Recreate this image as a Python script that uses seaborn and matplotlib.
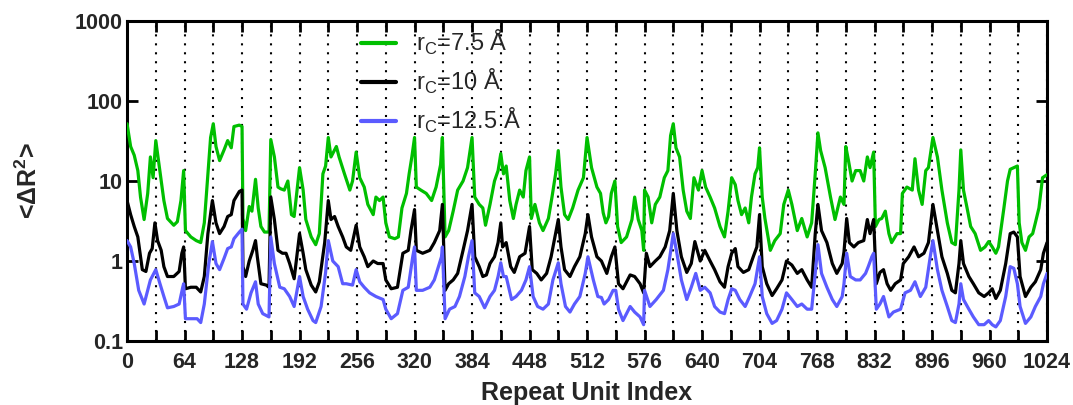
import matplotlib
matplotlib.use("Agg")
import matplotlib.pyplot as plt
from matplotlib.ticker import NullLocator
import pandas as pd
import seaborn as sns

# <ΔR²> per repeat unit for three cutoff radii, as (repeat unit index, value)
rc75_points = [
    (0, 52), (4, 27), (8, 21), (12, 13.5), (15, 6.3), (19, 3.3), (23, 7), (26, 20), (29, 11), (32, 32),
    (35, 18), (38, 10), (41, 5.7), (45, 3.4), (52, 2.8), (56, 3.1), (60, 5.7), (63, 13.5), (65, 2.4), (71, 2.0),
    (77, 1.8), (82, 1.7), (86, 3), (90, 12), (93, 35), (96, 52), (99, 27), (103, 18), (108, 24.5), (112, 32),
    (116, 26), (119, 48), (125, 50), (128, 48), (129, 3.4), (132, 2.4), (136, 4.8), (139, 4.2), (143, 10.5), (146, 4.6),
    (149, 2.7), (153, 2.3), (158, 2.3), (160, 33), (164, 20), (168, 8.4), (171, 8.0), (175, 7.7), (179, 10), (183, 3.8),
    (186, 3.6), (192, 14.7), (196, 7.7), (199, 3.3), (205, 2.0), (210, 1.6), (214, 2.2), (218, 12.3), (221, 15.4), (224, 35),
    (227, 20), (233, 27), (236, 20), (242, 12.3), (248, 7.7), (251, 10), (255, 23), (259, 11), (264, 8.4), (268, 5.1),
    (274, 3.8), (277, 6.3), (281, 5.7), (285, 6.3), (288, 3.0), (292, 2.0), (298, 1.9), (302, 2.0), (306, 4.6), (311, 7),
    (314, 12.3), (317, 20), (320, 35), (322, 8.4), (327, 7.7), (333, 7), (339, 5.7), (344, 8.4), (349, 16), (351, 35),
    (354, 2.0), (358, 2.4), (363, 4.2), (368, 7.7), (374, 10), (379, 14.7), (384, 35), (387, 6.3), (392, 5.1), (396, 4.6),
    (399, 2.8), (404, 5.1), (409, 10), (413, 13.5), (416, 22), (419, 12.3), (422, 15.4), (426, 5.7), (430, 3.4), (433, 5.1),
    (437, 7.7), (441, 6.3), (444, 13.5), (448, 20), (450, 3.4), (454, 5.1), (459, 3.0), (463, 2.4), (469, 3.4), (473, 6.3),
    (477, 12.3), (480, 24), (483, 8.4), (487, 3.8), (491, 3.3), (496, 4.6), (502, 7.7), (508, 11), (512, 35), (517, 14.7),
    (523, 8.4), (527, 7), (530, 4), (533, 3.0), (536, 3.6), (539, 7), (543, 10), (546, 2.7), (550, 1.7), (556, 2.0),
    (562, 3.3), (565, 6.3), (569, 3.3), (573, 2.4), (575, 1.36), (576, 7.7), (580, 6.3), (584, 3.0), (588, 5.1), (593, 6.3),
    (598, 11), (602, 13.5), (605, 37), (608, 52), (611, 26), (615, 20), (619, 7.7), (623, 4.2), (627, 3.4), (631, 11),
    (636, 7.7), (640, 13.5), (644, 8.4), (649, 6.3), (654, 4.6), (660, 2.7), (665, 2.0), (669, 4.2), (673, 11), (677, 9.0),
    (680, 5.7), (684, 3.8), (688, 4.6), (692, 3.0), (695, 6.3), (699, 12.3), (702, 14.7), (704, 26), (707, 6.3), (710, 3.4),
    (716, 1.36), (721, 1.8), (727, 2.2), (731, 5.1), (736, 7.7), (740, 5.1), (746, 2.4), (751, 3.4), (757, 2.0), (762, 3.0),
    (766, 12.3), (769, 40), (772, 24), (777, 14.7), (783, 6.3), (788, 3.3), (794, 6.3), (798, 5.1), (800, 27), (803, 18),
    (807, 10), (811, 13.5), (816, 13.5), (820, 10), (824, 20), (827, 14.7), (831, 23), (833, 2.7), (837, 3.3), (840, 3.4),
    (844, 4.2), (848, 2.2), (851, 1.7), (857, 2.2), (861, 2.2), (863, 7), (868, 8.4), (874, 7.7), (877, 19), (881, 7.7),
    (885, 5.1), (889, 13.5), (892, 14.7), (897, 35), (902, 20), (907, 7.7), (913, 3.0), (918, 1.7), (922, 1.6), (926, 7.7),
    (928, 24.5), (931, 7.7), (935, 4.6), (939, 2.7), (944, 2.2), (950, 1.36), (955, 1.5), (959, 1.75), (963, 1.5), (967, 1.25),
    (970, 1.5), (976, 4.6), (980, 10), (983, 14), (987, 14.7), (991, 15.4), (993, 3.0), (996, 1.7), (1000, 1.36), (1004, 2.0),
    (1008, 2.2), (1011, 3.0), (1015, 4.6), (1019, 11), (1024, 12),
]

rc10_points = [
    (0, 5.7), (4, 3.8), (8, 2.7), (12, 2.0), (17, 0.78), (21, 0.74), (25, 1.25), (28, 1.43), (31, 3), (34, 1.8),
    (38, 1.36), (41, 0.85), (45, 0.64), (52, 0.64), (58, 0.74), (61, 1.25), (63, 1.5), (65, 0.45), (71, 0.47), (77, 0.47),
    (82, 0.41), (86, 0.64), (90, 2.2), (95, 5.7), (99, 3), (103, 2.2), (108, 2.7), (112, 3.6), (116, 3.8), (119, 5.7),
    (125, 7.4), (128, 7.7), (129, 0.85), (132, 0.64), (136, 1.0), (140, 1.36), (143, 1.8), (145, 1.13), (149, 0.52), (155, 0.5),
    (158, 0.47), (160, 6.3), (164, 3.3), (168, 1.36), (173, 1.25), (177, 1.25), (181, 0.93), (186, 0.6), (192, 2.2), (196, 1.25),
    (199, 0.78), (205, 0.5), (210, 0.41), (214, 0.55), (220, 1.7), (224, 5.7), (227, 3.3), (231, 3.6), (235, 2.7), (240, 2.0),
    (244, 1.5), (249, 1.36), (255, 2.8), (259, 1.5), (264, 1.13), (268, 0.85), (274, 1.0), (279, 0.93), (285, 0.93), (288, 0.58),
    (294, 0.45), (301, 0.47), (307, 1.25), (313, 1.36), (316, 2.4), (320, 4.4), (322, 1.36), (329, 1.25), (337, 1.36), (342, 1.7),
    (348, 2.4), (351, 5.1), (354, 0.43), (358, 0.52), (363, 0.58), (368, 0.7), (374, 1.36), (379, 2.4), (384, 5.1), (387, 1.13),
    (392, 0.85), (396, 0.64), (400, 0.67), (404, 0.93), (409, 1.13), (413, 1.7), (416, 3.0), (418, 1.5), (422, 1.7), (427, 0.85),
    (431, 0.72), (437, 1.13), (443, 1.25), (448, 2.7), (451, 0.78), (456, 0.7), (461, 0.58), (467, 0.7), (472, 1.13), (477, 2.2),
    (480, 3.3), (483, 1.5), (487, 0.78), (493, 0.64), (498, 0.85), (504, 1.13), (510, 2.2), (513, 3.8), (517, 2.0), (523, 1.13),
    (528, 1.0), (534, 0.7), (539, 1.13), (543, 1.5), (547, 0.52), (552, 0.45), (560, 0.67), (565, 0.64), (571, 0.52), (575, 0.4),
    (578, 1.25), (582, 0.85), (588, 1.0), (593, 1.13), (599, 1.5), (604, 2.4), (608, 7), (612, 2.4), (617, 1.13), (623, 0.72),
    (628, 0.93), (632, 1.75), (638, 1.0), (643, 1.36), (649, 1.0), (654, 0.78), (660, 0.55), (665, 0.47), (669, 0.85), (673, 1.25),
    (677, 1.43), (680, 0.85), (686, 0.72), (692, 0.78), (697, 1.13), (701, 1.5), (704, 3.8), (707, 0.85), (712, 0.52), (718, 0.37),
    (723, 0.45), (729, 0.58), (734, 1.0), (740, 0.89), (746, 0.7), (751, 0.78), (757, 0.58), (762, 0.47), (766, 2.2), (769, 5.1),
    (773, 2.4), (779, 1.7), (785, 0.93), (790, 0.7), (796, 0.93), (798, 1.3), (801, 3.4), (804, 1.7), (809, 1.5), (814, 1.7),
    (820, 1.8), (824, 3.3), (827, 2.2), (831, 3.3), (834, 0.52), (838, 0.72), (842, 0.78), (846, 0.52), (850, 0.43), (855, 0.52),
    (861, 0.58), (864, 0.93), (870, 1.13), (876, 1.5), (881, 1.13), (887, 1.25), (892, 1.7), (897, 5.1), (902, 2.4), (907, 1.13),
    (913, 0.7), (918, 0.43), (922, 0.4), (926, 0.93), (928, 1.8), (931, 0.93), (937, 0.64), (942, 0.52), (948, 0.4), (954, 0.36),
    (959, 0.4), (963, 0.45), (967, 0.34), (972, 0.43), (978, 0.93), (983, 2.2), (987, 2.3), (991, 2.0), (994, 0.64), (1000, 0.36),
    (1006, 0.47), (1011, 0.55), (1017, 0.78), (1020, 1.25), (1024, 1.7),
]

rc125_points = [
    (0, 1.8), (4, 1.5), (8, 0.93), (13, 0.43), (19, 0.29), (23, 0.43), (26, 0.58), (32, 0.78), (36, 0.55), (41, 0.36),
    (45, 0.26), (52, 0.27), (58, 0.29), (62, 0.47), (63, 0.52), (65, 0.19), (73, 0.19), (78, 0.19), (82, 0.17), (86, 0.29),
    (91, 0.93), (95, 1.75), (99, 0.93), (103, 0.78), (108, 1.08), (112, 1.43), (116, 1.5), (119, 1.9), (125, 2.3), (128, 2.5),
    (129, 0.29), (133, 0.25), (138, 0.4), (143, 0.55), (146, 0.29), (151, 0.22), (158, 0.2), (160, 2.0), (164, 0.93), (170, 0.47),
    (175, 0.45), (181, 0.36), (186, 0.27), (192, 0.64), (196, 0.36), (201, 0.25), (207, 0.18), (210, 0.17), (216, 0.27), (221, 0.72),
    (224, 1.8), (229, 1.0), (235, 0.85), (240, 0.52), (244, 0.52), (251, 0.5), (255, 0.78), (259, 0.55), (264, 0.47), (270, 0.4),
    (277, 0.36), (285, 0.33), (288, 0.25), (294, 0.19), (301, 0.22), (307, 0.43), (313, 0.47), (318, 1.13), (320, 1.5), (322, 0.43),
    (329, 0.43), (337, 0.47), (342, 0.58), (350, 1.13), (351, 1.5), (354, 0.19), (359, 0.25), (365, 0.27), (370, 0.36), (376, 0.64),
    (380, 1.13), (384, 1.8), (387, 0.4), (392, 0.36), (398, 0.26), (404, 0.36), (409, 0.43), (413, 0.64), (416, 0.95), (419, 0.64),
    (422, 0.64), (428, 0.33), (433, 0.36), (439, 0.43), (444, 0.58), (448, 0.85), (452, 0.36), (457, 0.27), (463, 0.25), (469, 0.29),
    (474, 0.58), (480, 0.95), (483, 0.52), (488, 0.27), (493, 0.23), (498, 0.29), (504, 0.36), (510, 0.7), (513, 1.13), (519, 0.58),
    (524, 0.36), (528, 0.35), (531, 0.29), (536, 0.33), (541, 0.43), (544, 0.43), (547, 0.25), (552, 0.18), (560, 0.27), (565, 0.23),
    (571, 0.2), (575, 0.16), (576, 0.43), (582, 0.27), (589, 0.33), (597, 0.43), (602, 0.78), (608, 2.2), (612, 1.25), (617, 0.58),
    (623, 0.33), (628, 0.47), (633, 0.7), (638, 0.43), (643, 0.47), (649, 0.4), (654, 0.27), (660, 0.23), (665, 0.22), (669, 0.33),
    (673, 0.45), (677, 0.43), (682, 0.33), (688, 0.27), (693, 0.36), (699, 0.52), (704, 1.13), (707, 0.36), (712, 0.22), (718, 0.166),
    (723, 0.18), (729, 0.25), (734, 0.4), (740, 0.33), (746, 0.27), (751, 0.29), (757, 0.25), (762, 0.25), (766, 0.7), (769, 1.6),
    (773, 0.7), (779, 0.47), (785, 0.33), (790, 0.27), (796, 0.36), (798, 0.52), (801, 1.25), (805, 0.64), (811, 0.58), (816, 0.58),
    (822, 0.7), (825, 0.85), (829, 1.13), (831, 1.25), (834, 0.25), (838, 0.29), (842, 0.36), (848, 0.2), (853, 0.23), (861, 0.25),
    (866, 0.4), (872, 0.43), (877, 0.55), (883, 0.36), (889, 0.47), (894, 1.13), (897, 1.8), (902, 0.78), (907, 0.43), (913, 0.27),
    (918, 0.18), (922, 0.17), (926, 0.29), (928, 0.52), (931, 0.33), (937, 0.25), (942, 0.2), (948, 0.16), (954, 0.16), (959, 0.18),
    (963, 0.16), (967, 0.15), (972, 0.18), (978, 0.36), (983, 0.85), (987, 0.81), (991, 0.52), (994, 0.27), (1000, 0.166), (1006, 0.2),
    (1011, 0.27), (1017, 0.36), (1020, 0.52), (1024, 0.7),
]

series_labels = [
    r"r$_\mathrm{C}$=7.5 Å",
    r"r$_\mathrm{C}$=10 Å",
    r"r$_\mathrm{C}$=12.5 Å",
]
series_colors = ["#00BF00", "#000000", "#5B5BFF"]

x_ticks = list(range(0, 1025, 32))
x_tick_labels = [str(t) if t % 64 == 0 else "" for t in x_ticks]
y_ticks = [0.1, 1, 10, 100, 1000]
y_tick_labels = ["0.1", "1", "10", "100", "1000"]

frames = []
for label, pts in zip(series_labels, [rc75_points, rc10_points, rc125_points]):
    df = pd.DataFrame(pts, columns=["index", "msd"])
    df["series"] = label
    frames.append(df)
data = pd.concat(frames, ignore_index=True)

sns.set_style("ticks")
plt.rcParams["font.family"] = ["Liberation Sans", "DejaVu Sans"]
plt.rcParams["mathtext.fontset"] = "custom"
plt.rcParams["mathtext.rm"] = "Liberation Sans"
plt.rcParams["mathtext.bf"] = "Liberation Sans:bold"

fig = plt.figure(figsize=(10.73, 4.05), dpi=100)
ax = fig.add_axes([0.1184, 0.158, 0.8574, 0.7901])

sns.lineplot(
    data=data, x="index", y="msd", hue="series",
    hue_order=series_labels, palette=series_colors,
    estimator=None, linewidth=2.3, ax=ax, zorder=3,
)

ax.set_yscale("log")
ax.set_xlim(0, 1024)
ax.set_ylim(0.1, 1000)

ax.set_xticks(x_ticks)
ax.set_xticklabels(x_tick_labels, fontweight="bold", fontsize=15.5)
ax.set_yticks(y_ticks)
ax.set_yticklabels(y_tick_labels, fontweight="bold", fontsize=15.5)
ax.yaxis.set_minor_locator(NullLocator())

ax.tick_params(direction="in", top=True, right=True, length=8, width=2, color="black")
ax.tick_params(axis="x", pad=8)
ax.tick_params(axis="y", pad=3)

ax.xaxis.grid(True, color="black", linewidth=1.5, linestyle=(0, (1, 3.3)), zorder=1)
ax.set_axisbelow(True)

for sp in ax.spines.values():
    sp.set_linewidth(2.2)
    sp.set_color("black")

ax.set_xlabel("Repeat Unit Index", fontsize=18, fontweight="bold")
ax.set_ylabel(r"<ΔR$^{\mathbf{2}}$>", fontsize=18, fontweight="bold")
ax.xaxis.set_label_coords(0.5, -0.125)
ax.yaxis.set_label_coords(-0.092, 0.5)

old = ax.get_legend()
handles = old.legend_handles
texts = [t.get_text() for t in old.get_texts()]
old.remove()
for h in handles:
    h.set_linewidth(3)
ax.legend(
    handles, texts, loc="upper left", bbox_to_anchor=(0.2543, 0.978),
    frameon=False, fontsize=17, handlelength=1.5, handletextpad=0.85,
    labelspacing=0.42, borderpad=0, borderaxespad=0,
)

fig.savefig("out.png", dpi=100)
